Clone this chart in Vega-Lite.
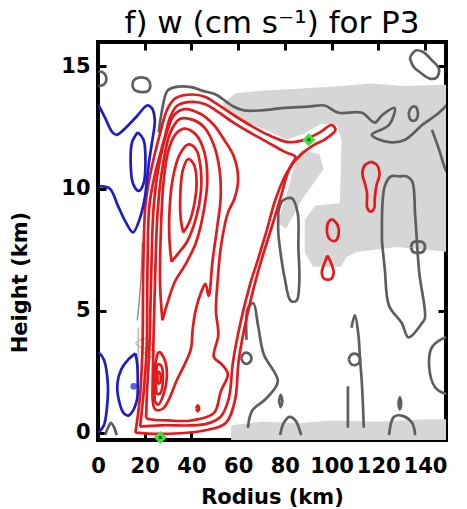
{
"$schema":"https://vega.github.io/schema/vega-lite/v6.json",
"width":348,"height":398,
"autosize":{"type":"none"},
"padding":{"left":98,"top":42,"right":21,"bottom":69},
"title":{"text":"f) w (cm s⁻¹) for P3","font":"DejaVu Sans","fontSize":31,"fontWeight":"normal","color":"#000","anchor":"middle","frame":"group","baseline":"alphabetic","offset":9,"dy":32},
"config":{"view":{"stroke":"#000","strokeWidth":4},
 "axis":{"grid":false,"domain":false,"zindex":1,"labelFlush":false,"labelOverlap":false,"tickColor":"#000","tickWidth":3,"tickSize":8,"offset":-8,"labelFont":"DejaVu Sans","labelFontWeight":"bold","labelFontSize":21,"labelColor":"#000","titleFont":"DejaVu Sans","titleFontWeight":"bold","titleFontSize":21,"titleColor":"#000"}},
"datasets":{
"shade":[
{"id":"S1","o":0,"x":53.4,"y":13.5},{"id":"S1","o":1,"x":59,"y":13.9},{"id":"S1","o":2,"x":69.8,"y":14.0},{"id":"S1","o":3,"x":87,"y":14.1},{"id":"S1","o":4,"x":104.3,"y":14.2},{"id":"S1","o":5,"x":117.2,"y":14.3},{"id":"S1","o":6,"x":130.2,"y":14.2},{"id":"S1","o":7,"x":150,"y":14.25},{"id":"S1","o":8,"x":150,"y":7.4},{"id":"S1","o":9,"x":138.8,"y":7.5},{"id":"S1","o":10,"x":128,"y":7.6},{"id":"S1","o":11,"x":119.4,"y":7.5},{"id":"S1","o":12,"x":110.8,"y":7.4},{"id":"S1","o":13,"x":106.5,"y":7.2},{"id":"S1","o":14,"x":104,"y":6.8},{"id":"S1","o":15,"x":92,"y":6.8},{"id":"S1","o":16,"x":88.5,"y":7.4},{"id":"S1","o":17,"x":88.5,"y":8.7},{"id":"S1","o":18,"x":93,"y":9.3},{"id":"S1","o":19,"x":103.5,"y":9.4},{"id":"S1","o":20,"x":104,"y":10.8},{"id":"S1","o":21,"x":104.3,"y":12.0},{"id":"S1","o":22,"x":102.2,"y":12.6},{"id":"S1","o":23,"x":95.7,"y":12.65},{"id":"S1","o":24,"x":88.4,"y":12.25},{"id":"S1","o":25,"x":80.6,"y":12.0},{"id":"S1","o":26,"x":72,"y":12.4},{"id":"S1","o":27,"x":61.2,"y":12.8},{"id":"S1","o":28,"x":54.7,"y":13.2},
{"id":"S2","o":0,"x":87,"y":11.6},{"id":"S2","o":1,"x":94.8,"y":11.4},{"id":"S2","o":2,"x":96.6,"y":10.8},{"id":"S2","o":3,"x":87,"y":9.5},{"id":"S2","o":4,"x":80.6,"y":8.35},{"id":"S2","o":5,"x":76.7,"y":8.6},{"id":"S2","o":6,"x":80.6,"y":9.7},{"id":"S2","o":7,"x":83.6,"y":10.8},
{"id":"S4","o":0,"x":57,"y":0.3},{"id":"S4","o":1,"x":70,"y":0.45},{"id":"S4","o":2,"x":87,"y":0.4},{"id":"S4","o":3,"x":100,"y":0.5},{"id":"S4","o":4,"x":120,"y":0.45},{"id":"S4","o":5,"x":140,"y":0.55},{"id":"S4","o":6,"x":150,"y":0.55},{"id":"S4","o":7,"x":150,"y":-0.4},{"id":"S4","o":8,"x":57,"y":-0.4}
],
"lines":[
{"id":"G1","c":"gray","o":0,"x":26,"y":12.3},{"id":"G1","c":"gray","o":1,"x":27.6,"y":13.3},{"id":"G1","c":"gray","o":2,"x":29.7,"y":14.0},{"id":"G1","c":"gray","o":3,"x":33,"y":14.15},{"id":"G1","c":"gray","o":4,"x":40,"y":14.15},{"id":"G1","c":"gray","o":5,"x":44.8,"y":14.0},{"id":"G1","c":"gray","o":6,"x":50.4,"y":13.85},{"id":"G1","c":"gray","o":7,"x":55,"y":13.55},{"id":"G1","c":"gray","o":8,"x":58.2,"y":13.35},{"id":"G1","c":"gray","o":9,"x":62.5,"y":13.2},{"id":"G1","c":"gray","o":10,"x":70,"y":13.2},{"id":"G1","c":"gray","o":11,"x":79.7,"y":13.3},{"id":"G1","c":"gray","o":12,"x":90,"y":13.35},{"id":"G1","c":"gray","o":13,"x":97,"y":13.4},{"id":"G1","c":"gray","o":14,"x":103,"y":13.1},{"id":"G1","c":"gray","o":15,"x":113,"y":13.1},{"id":"G1","c":"gray","o":16,"x":118.5,"y":12.7},{"id":"G1","c":"gray","o":17,"x":121.6,"y":13.0},{"id":"G1","c":"gray","o":18,"x":127,"y":13.3},{"id":"G1","c":"gray","o":19,"x":124.6,"y":12.6},{"id":"G1","c":"gray","o":20,"x":117.2,"y":12.2},{"id":"G1","c":"gray","o":21,"x":124.6,"y":11.9},{"id":"G1","c":"gray","o":22,"x":131.5,"y":12.0},{"id":"G1","c":"gray","o":23,"x":138.8,"y":12.6},{"id":"G1","c":"gray","o":24,"x":146,"y":13.1},{"id":"G1","c":"gray","o":25,"x":150,"y":13.5},
{"id":"G21","c":"gray","o":0,"x":143,"y":12.4},{"id":"G21","c":"gray","o":1,"x":146,"y":11.6},{"id":"G21","c":"gray","o":2,"x":148.7,"y":10.8},{"id":"G21","c":"gray","o":3,"x":150,"y":10.6},
{"id":"G2","c":"gray","o":0,"x":14.7,"y":14.25},{"id":"G2","c":"gray","o":1,"x":15.5,"y":14.45},{"id":"G2","c":"gray","o":2,"x":18.5,"y":14.55},{"id":"G2","c":"gray","o":3,"x":21.5,"y":14.45},{"id":"G2","c":"gray","o":4,"x":22.4,"y":14.2},{"id":"G2","c":"gray","o":5,"x":21.5,"y":14.0},{"id":"G2","c":"gray","o":6,"x":18.5,"y":13.95},{"id":"G2","c":"gray","o":7,"x":15.5,"y":14.05},{"id":"G2","c":"gray","o":8,"x":14.7,"y":14.25},
{"id":"G3","c":"gray","o":0,"x":0.2,"y":14.8},{"id":"G3","c":"gray","o":1,"x":2.2,"y":14.75},{"id":"G3","c":"gray","o":2,"x":3.6,"y":14.5},{"id":"G3","c":"gray","o":3,"x":2.4,"y":14.25},{"id":"G3","c":"gray","o":4,"x":0.2,"y":14.2},
{"id":"G4","c":"gray","o":0,"x":133.5,"y":15.35},{"id":"G4","c":"gray","o":1,"x":136,"y":15.65},{"id":"G4","c":"gray","o":2,"x":139,"y":15.6},{"id":"G4","c":"gray","o":3,"x":143,"y":15.25},{"id":"G4","c":"gray","o":4,"x":146,"y":14.9},{"id":"G4","c":"gray","o":5,"x":145,"y":14.55},{"id":"G4","c":"gray","o":6,"x":142,"y":14.5},{"id":"G4","c":"gray","o":7,"x":138,"y":14.75},{"id":"G4","c":"gray","o":8,"x":135,"y":15.0},{"id":"G4","c":"gray","o":9,"x":133.5,"y":15.35},
{"id":"G5","c":"gray","o":0,"x":133,"y":13.05},{"id":"G5","c":"gray","o":1,"x":134,"y":13.3},{"id":"G5","c":"gray","o":2,"x":136,"y":13.35},{"id":"G5","c":"gray","o":3,"x":137,"y":13.05},{"id":"G5","c":"gray","o":4,"x":136,"y":12.8},{"id":"G5","c":"gray","o":5,"x":134,"y":12.8},{"id":"G5","c":"gray","o":6,"x":133,"y":13.05},
{"id":"G7","c":"gray","o":0,"x":77.2,"y":9.0},{"id":"G7","c":"gray","o":1,"x":79,"y":9.5},{"id":"G7","c":"gray","o":2,"x":83,"y":9.6},{"id":"G7","c":"gray","o":3,"x":85.5,"y":9.0},{"id":"G7","c":"gray","o":4,"x":85.8,"y":7.6},{"id":"G7","c":"gray","o":5,"x":86.2,"y":6.2},{"id":"G7","c":"gray","o":6,"x":85,"y":5.4},{"id":"G7","c":"gray","o":7,"x":82.5,"y":5.4},{"id":"G7","c":"gray","o":8,"x":80,"y":6.3},{"id":"G7","c":"gray","o":9,"x":78.4,"y":7.2},{"id":"G7","c":"gray","o":10,"x":77.2,"y":8.2},{"id":"G7","c":"gray","o":11,"x":77.2,"y":9.0},
{"id":"G8","c":"gray","o":0,"x":63.6,"y":3.8},{"id":"G8","c":"gray","o":1,"x":64.2,"y":5.1},{"id":"G8","c":"gray","o":2,"x":66.5,"y":5.3},{"id":"G8","c":"gray","o":3,"x":68.5,"y":4.4},{"id":"G8","c":"gray","o":4,"x":71,"y":3.2},{"id":"G8","c":"gray","o":5,"x":77,"y":2.1},{"id":"G8","c":"gray","o":6,"x":72,"y":1.4},{"id":"G8","c":"gray","o":7,"x":66,"y":0.9},{"id":"G8","c":"gray","o":8,"x":64.2,"y":0.2},
{"id":"G9","c":"gray","o":0,"x":61.3,"y":3.05},{"id":"G9","c":"gray","o":1,"x":62.5,"y":3.25},{"id":"G9","c":"gray","o":2,"x":64.5,"y":3.25},{"id":"G9","c":"gray","o":3,"x":65.7,"y":3.05},{"id":"G9","c":"gray","o":4,"x":64.5,"y":2.85},{"id":"G9","c":"gray","o":5,"x":62.5,"y":2.85},{"id":"G9","c":"gray","o":6,"x":61.3,"y":3.05},
{"id":"G10","c":"gray","o":0,"x":77.5,"y":1.3},{"id":"G10","c":"gray","o":1,"x":78.2,"y":1.55},{"id":"G10","c":"gray","o":2,"x":78.9,"y":1.3},{"id":"G10","c":"gray","o":3,"x":78.2,"y":1.05},{"id":"G10","c":"gray","o":4,"x":77.5,"y":1.3},
{"id":"G11","c":"gray","o":0,"x":78,"y":-0.1},{"id":"G11","c":"gray","o":1,"x":79.5,"y":0.4},{"id":"G11","c":"gray","o":2,"x":82,"y":0.65},{"id":"G11","c":"gray","o":3,"x":84.5,"y":0.5},{"id":"G11","c":"gray","o":4,"x":87,"y":-0.1},
{"id":"G12","c":"gray","o":0,"x":108.5,"y":4.3},{"id":"G12","c":"gray","o":1,"x":110,"y":4.8},{"id":"G12","c":"gray","o":2,"x":111.5,"y":4.0},{"id":"G12","c":"gray","o":3,"x":112.2,"y":3.0},{"id":"G12","c":"gray","o":4,"x":113,"y":2.0},{"id":"G12","c":"gray","o":5,"x":113.8,"y":0.2},
{"id":"G13","c":"gray","o":0,"x":107,"y":0.2},{"id":"G13","c":"gray","o":1,"x":107,"y":1.9},
{"id":"G14","c":"gray","o":0,"x":107.3,"y":3.0},{"id":"G14","c":"gray","o":1,"x":108.5,"y":3.2},{"id":"G14","c":"gray","o":2,"x":111,"y":3.2},{"id":"G14","c":"gray","o":3,"x":112.2,"y":3.0},{"id":"G14","c":"gray","o":4,"x":111,"y":2.8},{"id":"G14","c":"gray","o":5,"x":108.5,"y":2.8},{"id":"G14","c":"gray","o":6,"x":107.3,"y":3.0},
{"id":"G15","c":"gray","o":0,"x":128.6,"y":1.2},{"id":"G15","c":"gray","o":1,"x":129.2,"y":1.45},{"id":"G15","c":"gray","o":2,"x":129.8,"y":1.2},{"id":"G15","c":"gray","o":3,"x":129.2,"y":0.95},{"id":"G15","c":"gray","o":4,"x":128.6,"y":1.2},
{"id":"G16","c":"gray","o":0,"x":124.6,"y":-0.1},{"id":"G16","c":"gray","o":1,"x":125.5,"y":0.4},{"id":"G16","c":"gray","o":2,"x":126.7,"y":0.65},{"id":"G16","c":"gray","o":3,"x":130,"y":0.7},{"id":"G16","c":"gray","o":4,"x":134.5,"y":0.4},{"id":"G16","c":"gray","o":5,"x":135.8,"y":-0.1},
{"id":"G17","c":"gray","o":0,"x":121.6,"y":7.8},{"id":"G17","c":"gray","o":1,"x":122.8,"y":10.1},{"id":"G17","c":"gray","o":2,"x":125.5,"y":10.5},{"id":"G17","c":"gray","o":3,"x":128.9,"y":10.5},{"id":"G17","c":"gray","o":4,"x":132,"y":10.5},{"id":"G17","c":"gray","o":5,"x":134.5,"y":10.3},{"id":"G17","c":"gray","o":6,"x":135.8,"y":8.9},{"id":"G17","c":"gray","o":7,"x":137.5,"y":6.6},{"id":"G17","c":"gray","o":8,"x":140,"y":4.7},{"id":"G17","c":"gray","o":9,"x":138.8,"y":4.5},{"id":"G17","c":"gray","o":10,"x":133,"y":3.9},{"id":"G17","c":"gray","o":11,"x":130,"y":4.5},{"id":"G17","c":"gray","o":12,"x":124.6,"y":5.2},{"id":"G17","c":"gray","o":13,"x":122.8,"y":6.7},{"id":"G17","c":"gray","o":14,"x":121.6,"y":7.8},
{"id":"G18","c":"gray","o":0,"x":150,"y":3.9},{"id":"G18","c":"gray","o":1,"x":148.7,"y":3.9},{"id":"G18","c":"gray","o":2,"x":143,"y":3.5},{"id":"G18","c":"gray","o":3,"x":141.8,"y":2.7},{"id":"G18","c":"gray","o":4,"x":144.4,"y":1.85},{"id":"G18","c":"gray","o":5,"x":148.7,"y":1.6},{"id":"G18","c":"gray","o":6,"x":150,"y":1.6},
{"id":"G19","c":"gray","o":0,"x":134,"y":7.6},{"id":"G19","c":"gray","o":1,"x":135,"y":7.8},{"id":"G19","c":"gray","o":2,"x":139,"y":7.8},{"id":"G19","c":"gray","o":3,"x":140,"y":7.6},{"id":"G19","c":"gray","o":4,"x":139,"y":7.4},{"id":"G19","c":"gray","o":5,"x":135,"y":7.4},{"id":"G19","c":"gray","o":6,"x":134,"y":7.6},
{"id":"G20","c":"gray","o":0,"x":3,"y":-0.1},{"id":"G20","c":"gray","o":1,"x":4.5,"y":0.25},{"id":"G20","c":"gray","o":2,"x":5.5,"y":0.4},{"id":"G20","c":"gray","o":3,"x":7,"y":0.2},{"id":"G20","c":"gray","o":4,"x":8,"y":-0.1},
{"id":"G22","c":"lgray","o":0,"x":19,"y":7.8},{"id":"G22","c":"lgray","o":1,"x":18.5,"y":6.5},{"id":"G22","c":"lgray","o":2,"x":17.5,"y":5.2},{"id":"G22","c":"lgray","o":3,"x":16.8,"y":4.6},
{"id":"T1","c":"tan","o":0,"x":16,"y":3.65},{"id":"T1","c":"tan","o":1,"x":19.5,"y":3.85},{"id":"T1","c":"tan","o":2,"x":23,"y":3.65},{"id":"T1","c":"tan","o":3,"x":19.5,"y":3.45},{"id":"T1","c":"tan","o":4,"x":16,"y":3.65},
{"id":"T2","c":"tan","o":0,"x":19.4,"y":3.25},{"id":"T2","c":"tan","o":1,"x":22.4,"y":3.4},{"id":"T2","c":"tan","o":2,"x":25.4,"y":3.25},{"id":"T2","c":"tan","o":3,"x":22.4,"y":3.1},{"id":"T2","c":"tan","o":4,"x":19.4,"y":3.25},
{"id":"T3","c":"tan","o":0,"x":17.2,"y":2.1},{"id":"T3","c":"tan","o":1,"x":17.2,"y":4.3},
{"id":"R1","c":"red","o":0,"x":16,"y":0.0},{"id":"R1","c":"red","o":1,"x":17.8,"y":1.3},{"id":"R1","c":"red","o":2,"x":19,"y":3.3},{"id":"R1","c":"red","o":3,"x":19.4,"y":6.8},{"id":"R1","c":"red","o":4,"x":20.3,"y":9.3},{"id":"R1","c":"red","o":5,"x":22.4,"y":10.6},{"id":"R1","c":"red","o":6,"x":26.7,"y":12.3},{"id":"R1","c":"red","o":7,"x":29.7,"y":13.25},{"id":"R1","c":"red","o":8,"x":33.2,"y":13.7},{"id":"R1","c":"red","o":9,"x":40.5,"y":13.85},{"id":"R1","c":"red","o":10,"x":46,"y":13.75},{"id":"R1","c":"red","o":11,"x":50.4,"y":13.5},{"id":"R1","c":"red","o":12,"x":58.2,"y":13.0},{"id":"R1","c":"red","o":13,"x":65,"y":12.6},{"id":"R1","c":"red","o":14,"x":72.8,"y":12.2},{"id":"R1","c":"red","o":15,"x":81.5,"y":11.9},{"id":"R1","c":"red","o":16,"x":88.4,"y":12.0},{"id":"R1","c":"red","o":17,"x":95,"y":12.3},{"id":"R1","c":"red","o":18,"x":100,"y":12.6},{"id":"R1","c":"red","o":19,"x":101.7,"y":12.4},{"id":"R1","c":"red","o":20,"x":97,"y":12.0},{"id":"R1","c":"red","o":21,"x":92.7,"y":11.8},{"id":"R1","c":"red","o":22,"x":87,"y":11.4},{"id":"R1","c":"red","o":23,"x":82,"y":10.8},{"id":"R1","c":"red","o":24,"x":78.4,"y":9.7},{"id":"R1","c":"red","o":25,"x":74,"y":8.3},{"id":"R1","c":"red","o":26,"x":70.7,"y":7.3},{"id":"R1","c":"red","o":27,"x":67.7,"y":6.3},{"id":"R1","c":"red","o":28,"x":63.4,"y":4.6},{"id":"R1","c":"red","o":29,"x":60.3,"y":3.0},{"id":"R1","c":"red","o":30,"x":58.6,"y":1.3},{"id":"R1","c":"red","o":31,"x":54.7,"y":0.4},{"id":"R1","c":"red","o":32,"x":46,"y":0.1},{"id":"R1","c":"red","o":33,"x":26.7,"y":-0.05},{"id":"R1","c":"red","o":34,"x":16,"y":0.0},
{"id":"R1b","c":"red","o":0,"x":18,"y":0.25},{"id":"R1b","c":"red","o":1,"x":19.4,"y":1.5},{"id":"R1b","c":"red","o":2,"x":20.8,"y":3.4},{"id":"R1b","c":"red","o":3,"x":21.2,"y":6.8},{"id":"R1b","c":"red","o":4,"x":22,"y":9.3},{"id":"R1b","c":"red","o":5,"x":24.2,"y":10.5},{"id":"R1b","c":"red","o":6,"x":28.3,"y":12.0},{"id":"R1b","c":"red","o":7,"x":31,"y":12.95},{"id":"R1b","c":"red","o":8,"x":34,"y":13.4},{"id":"R1b","c":"red","o":9,"x":40.5,"y":13.55},{"id":"R1b","c":"red","o":10,"x":46,"y":13.45},{"id":"R1b","c":"red","o":11,"x":50.4,"y":13.2},{"id":"R1b","c":"red","o":12,"x":58,"y":12.7},{"id":"R1b","c":"red","o":13,"x":65,"y":12.3},{"id":"R1b","c":"red","o":14,"x":72.5,"y":11.9},{"id":"R1b","c":"red","o":15,"x":80,"y":11.5},{"id":"R1b","c":"red","o":16,"x":84.5,"y":11.3},{"id":"R1b","c":"red","o":17,"x":83,"y":11.0},{"id":"R1b","c":"red","o":18,"x":79.5,"y":10.4},{"id":"R1b","c":"red","o":19,"x":75.8,"y":9.5},{"id":"R1b","c":"red","o":20,"x":72,"y":8.2},{"id":"R1b","c":"red","o":21,"x":68.5,"y":7.1},{"id":"R1b","c":"red","o":22,"x":65.2,"y":6.1},{"id":"R1b","c":"red","o":23,"x":61,"y":4.5},{"id":"R1b","c":"red","o":24,"x":57.8,"y":2.9},{"id":"R1b","c":"red","o":25,"x":56,"y":1.4},{"id":"R1b","c":"red","o":26,"x":52.5,"y":0.65},{"id":"R1b","c":"red","o":27,"x":46,"y":0.35},{"id":"R1b","c":"red","o":28,"x":27,"y":0.3},{"id":"R1b","c":"red","o":29,"x":18,"y":0.25},
{"id":"R2","c":"red","o":0,"x":20.6,"y":0.6},{"id":"R2","c":"red","o":1,"x":20.9,"y":1.5},{"id":"R2","c":"red","o":2,"x":22,"y":3.5},{"id":"R2","c":"red","o":3,"x":22.8,"y":6.5},{"id":"R2","c":"red","o":4,"x":23.8,"y":9.2},{"id":"R2","c":"red","o":5,"x":26,"y":10.9},{"id":"R2","c":"red","o":6,"x":29.5,"y":12.3},{"id":"R2","c":"red","o":7,"x":32.5,"y":13.0},{"id":"R2","c":"red","o":8,"x":37,"y":13.25},{"id":"R2","c":"red","o":9,"x":44,"y":13.05},{"id":"R2","c":"red","o":10,"x":49.6,"y":12.6},{"id":"R2","c":"red","o":11,"x":54,"y":12.0},{"id":"R2","c":"red","o":12,"x":58.2,"y":11.3},{"id":"R2","c":"red","o":13,"x":60,"y":10.4},{"id":"R2","c":"red","o":14,"x":58.5,"y":9.6},{"id":"R2","c":"red","o":15,"x":55.6,"y":9.0},{"id":"R2","c":"red","o":16,"x":52.6,"y":7.6},{"id":"R2","c":"red","o":17,"x":51.3,"y":6.3},{"id":"R2","c":"red","o":18,"x":50.5,"y":5.0},{"id":"R2","c":"red","o":19,"x":51.5,"y":4.0},{"id":"R2","c":"red","o":20,"x":49.6,"y":3.1},{"id":"R2","c":"red","o":21,"x":53,"y":2.8},{"id":"R2","c":"red","o":22,"x":55.6,"y":2.4},{"id":"R2","c":"red","o":23,"x":52.6,"y":1.7},{"id":"R2","c":"red","o":24,"x":49.6,"y":0.8},{"id":"R2","c":"red","o":25,"x":40,"y":0.5},{"id":"R2","c":"red","o":26,"x":30,"y":0.5},{"id":"R2","c":"red","o":27,"x":22,"y":0.55},{"id":"R2","c":"red","o":28,"x":20.6,"y":0.6},
{"id":"R2b","c":"red","o":0,"x":23.3,"y":1.5},{"id":"R2b","c":"red","o":1,"x":24.5,"y":0.95},{"id":"R2b","c":"red","o":2,"x":28,"y":1.0},{"id":"R2b","c":"red","o":3,"x":34,"y":2.2},{"id":"R2b","c":"red","o":4,"x":39.7,"y":3.4},{"id":"R2b","c":"red","o":5,"x":40.5,"y":4.2},{"id":"R2b","c":"red","o":6,"x":41.8,"y":5.0},{"id":"R2b","c":"red","o":7,"x":44.8,"y":5.9},{"id":"R2b","c":"red","o":8,"x":46,"y":6.1},{"id":"R2b","c":"red","o":9,"x":47.4,"y":5.6},{"id":"R2b","c":"red","o":10,"x":49,"y":7.0},{"id":"R2b","c":"red","o":11,"x":51,"y":8.4},{"id":"R2b","c":"red","o":12,"x":52.5,"y":9.6},{"id":"R2b","c":"red","o":13,"x":52,"y":10.8},{"id":"R2b","c":"red","o":14,"x":49.5,"y":11.8},{"id":"R2b","c":"red","o":15,"x":45.5,"y":12.5},{"id":"R2b","c":"red","o":16,"x":41,"y":12.8},{"id":"R2b","c":"red","o":17,"x":35,"y":12.85},{"id":"R2b","c":"red","o":18,"x":31,"y":12.3},{"id":"R2b","c":"red","o":19,"x":27.5,"y":10.8},{"id":"R2b","c":"red","o":20,"x":25.5,"y":9.0},{"id":"R2b","c":"red","o":21,"x":24.5,"y":6.5},{"id":"R2b","c":"red","o":22,"x":23.8,"y":4.0},{"id":"R2b","c":"red","o":23,"x":23.3,"y":1.5},
{"id":"R3","c":"red","o":0,"x":27.6,"y":4.6},{"id":"R3","c":"red","o":1,"x":30,"y":5.4},{"id":"R3","c":"red","o":2,"x":33,"y":6.2},{"id":"R3","c":"red","o":3,"x":37.5,"y":6.9},{"id":"R3","c":"red","o":4,"x":42,"y":7.8},{"id":"R3","c":"red","o":5,"x":45.5,"y":9.2},{"id":"R3","c":"red","o":6,"x":46.8,"y":10.4},{"id":"R3","c":"red","o":7,"x":45.5,"y":11.5},{"id":"R3","c":"red","o":8,"x":42,"y":12.2},{"id":"R3","c":"red","o":9,"x":37,"y":12.45},{"id":"R3","c":"red","o":10,"x":33,"y":12.2},{"id":"R3","c":"red","o":11,"x":30,"y":11.5},{"id":"R3","c":"red","o":12,"x":28,"y":10.2},{"id":"R3","c":"red","o":13,"x":26.9,"y":8.2},{"id":"R3","c":"red","o":14,"x":26.6,"y":6.0},{"id":"R3","c":"red","o":15,"x":27.6,"y":4.6},
{"id":"R4","c":"red","o":0,"x":31.5,"y":7.0},{"id":"R4","c":"red","o":1,"x":34,"y":7.3},{"id":"R4","c":"red","o":2,"x":38,"y":7.8},{"id":"R4","c":"red","o":3,"x":42,"y":8.8},{"id":"R4","c":"red","o":4,"x":44,"y":9.8},{"id":"R4","c":"red","o":5,"x":44,"y":10.8},{"id":"R4","c":"red","o":6,"x":42,"y":11.6},{"id":"R4","c":"red","o":7,"x":38.5,"y":11.8},{"id":"R4","c":"red","o":8,"x":35,"y":11.4},{"id":"R4","c":"red","o":9,"x":32,"y":10.4},{"id":"R4","c":"red","o":10,"x":30.5,"y":8.8},{"id":"R4","c":"red","o":11,"x":30.8,"y":7.6},{"id":"R4","c":"red","o":12,"x":31.5,"y":7.0},
{"id":"R5","c":"red","o":0,"x":36.5,"y":8.2},{"id":"R5","c":"red","o":1,"x":39,"y":8.6},{"id":"R5","c":"red","o":2,"x":41.3,"y":9.4},{"id":"R5","c":"red","o":3,"x":42.2,"y":10.3},{"id":"R5","c":"red","o":4,"x":41,"y":11.0},{"id":"R5","c":"red","o":5,"x":38.5,"y":11.2},{"id":"R5","c":"red","o":6,"x":36.2,"y":10.7},{"id":"R5","c":"red","o":7,"x":35.2,"y":9.6},{"id":"R5","c":"red","o":8,"x":35.5,"y":8.7},{"id":"R5","c":"red","o":9,"x":36.5,"y":8.2},
{"id":"R6","c":"red","o":0,"x":24.3,"y":1.3},{"id":"R6","c":"red","o":1,"x":25.8,"y":1.15},{"id":"R6","c":"red","o":2,"x":28,"y":1.55},{"id":"R6","c":"red","o":3,"x":29.5,"y":2.3},{"id":"R6","c":"red","o":4,"x":28.5,"y":3.0},{"id":"R6","c":"red","o":5,"x":26.2,"y":3.3},{"id":"R6","c":"red","o":6,"x":24.7,"y":2.9},{"id":"R6","c":"red","o":7,"x":24.1,"y":2.1},{"id":"R6","c":"red","o":8,"x":24.3,"y":1.3},
{"id":"R7","c":"red","o":0,"x":25,"y":1.6},{"id":"R7","c":"red","o":1,"x":26.5,"y":1.6},{"id":"R7","c":"red","o":2,"x":27.8,"y":2.2},{"id":"R7","c":"red","o":3,"x":27,"y":2.75},{"id":"R7","c":"red","o":4,"x":25.6,"y":2.8},{"id":"R7","c":"red","o":5,"x":24.9,"y":2.2},{"id":"R7","c":"red","o":6,"x":25,"y":1.6},
{"id":"R8","c":"red","o":0,"x":25.6,"y":2.0},{"id":"R8","c":"red","o":1,"x":26.6,"y":2.05},{"id":"R8","c":"red","o":2,"x":26.7,"y":2.4},{"id":"R8","c":"red","o":3,"x":25.8,"y":2.5},{"id":"R8","c":"red","o":4,"x":25.6,"y":2.0},
{"id":"RD","c":"red","o":0,"x":42.1,"y":1.0},{"id":"RD","c":"red","o":1,"x":42.7,"y":1.12},{"id":"RD","c":"red","o":2,"x":43.3,"y":1.0},{"id":"RD","c":"red","o":3,"x":42.7,"y":0.88},{"id":"RD","c":"red","o":4,"x":42.1,"y":1.0},
{"id":"RK","c":"red","o":0,"x":116.8,"y":11.1},{"id":"RK","c":"red","o":1,"x":119.5,"y":10.95},{"id":"RK","c":"red","o":2,"x":120.5,"y":10.55},{"id":"RK","c":"red","o":3,"x":119.3,"y":10.15},{"id":"RK","c":"red","o":4,"x":118.5,"y":9.6},{"id":"RK","c":"red","o":5,"x":118.3,"y":9.2},{"id":"RK","c":"red","o":6,"x":116.8,"y":9.05},{"id":"RK","c":"red","o":7,"x":115.3,"y":9.2},{"id":"RK","c":"red","o":8,"x":115.2,"y":9.8},{"id":"RK","c":"red","o":9,"x":114.3,"y":10.2},{"id":"RK","c":"red","o":10,"x":113.2,"y":10.6},{"id":"RK","c":"red","o":11,"x":114.2,"y":10.95},{"id":"RK","c":"red","o":12,"x":116.8,"y":11.1},
{"id":"RO","c":"red","o":0,"x":100.4,"y":8.75},{"id":"RO","c":"red","o":1,"x":102.6,"y":8.5},{"id":"RO","c":"red","o":2,"x":103,"y":8.1},{"id":"RO","c":"red","o":3,"x":101.5,"y":7.85},{"id":"RO","c":"red","o":4,"x":99,"y":7.95},{"id":"RO","c":"red","o":5,"x":98,"y":8.3},{"id":"RO","c":"red","o":6,"x":98.8,"y":8.65},{"id":"RO","c":"red","o":7,"x":100.4,"y":8.75},
{"id":"RR","c":"red","o":0,"x":98.3,"y":7.25},{"id":"RR","c":"red","o":1,"x":100,"y":6.9},{"id":"RR","c":"red","o":2,"x":100.9,"y":6.55},{"id":"RR","c":"red","o":3,"x":99.8,"y":6.3},{"id":"RR","c":"red","o":4,"x":97,"y":6.3},{"id":"RR","c":"red","o":5,"x":95.8,"y":6.55},{"id":"RR","c":"red","o":6,"x":96.8,"y":6.9},{"id":"RR","c":"red","o":7,"x":98.3,"y":7.25},
{"id":"B1","c":"blue","o":0,"x":0.3,"y":10.1},{"id":"B1","c":"blue","o":1,"x":5,"y":10.0},{"id":"B1","c":"blue","o":2,"x":8.5,"y":9.3},{"id":"B1","c":"blue","o":3,"x":12,"y":8.6},{"id":"B1","c":"blue","o":4,"x":15,"y":8.2},{"id":"B1","c":"blue","o":5,"x":18,"y":8.8},{"id":"B1","c":"blue","o":6,"x":20,"y":9.6},{"id":"B1","c":"blue","o":7,"x":21,"y":10.4},{"id":"B1","c":"blue","o":8,"x":22,"y":11.2},{"id":"B1","c":"blue","o":9,"x":23.3,"y":12.0},{"id":"B1","c":"blue","o":10,"x":24.3,"y":12.8},{"id":"B1","c":"blue","o":11,"x":23,"y":13.3},{"id":"B1","c":"blue","o":12,"x":21,"y":13.4},{"id":"B1","c":"blue","o":13,"x":17,"y":13.0},{"id":"B1","c":"blue","o":14,"x":12,"y":12.5},{"id":"B1","c":"blue","o":15,"x":8,"y":12.2},{"id":"B1","c":"blue","o":16,"x":6.2,"y":12.3},{"id":"B1","c":"blue","o":17,"x":3,"y":12.9},{"id":"B1","c":"blue","o":18,"x":0.3,"y":13.4},
{"id":"B2","c":"blue","o":0,"x":17,"y":12.3},{"id":"B2","c":"blue","o":1,"x":19.5,"y":12.0},{"id":"B2","c":"blue","o":2,"x":20.3,"y":11.0},{"id":"B2","c":"blue","o":3,"x":19.5,"y":10.2},{"id":"B2","c":"blue","o":4,"x":17.5,"y":9.9},{"id":"B2","c":"blue","o":5,"x":15,"y":10.2},{"id":"B2","c":"blue","o":6,"x":14,"y":11.0},{"id":"B2","c":"blue","o":7,"x":14.6,"y":11.9},{"id":"B2","c":"blue","o":8,"x":17,"y":12.3},
{"id":"B3","c":"blue","o":0,"x":0.2,"y":3.3},{"id":"B3","c":"blue","o":1,"x":2.5,"y":3.0},{"id":"B3","c":"blue","o":2,"x":4.2,"y":2.0},{"id":"B3","c":"blue","o":3,"x":3.8,"y":1.0},{"id":"B3","c":"blue","o":4,"x":2.5,"y":0.3},{"id":"B3","c":"blue","o":5,"x":0.2,"y":0.0},
{"id":"B4","c":"blue","o":0,"x":16,"y":3.25},{"id":"B4","c":"blue","o":1,"x":13,"y":3.0},{"id":"B4","c":"blue","o":2,"x":10,"y":2.6},{"id":"B4","c":"blue","o":3,"x":8.3,"y":2.0},{"id":"B4","c":"blue","o":4,"x":9,"y":1.3},{"id":"B4","c":"blue","o":5,"x":11,"y":0.8},{"id":"B4","c":"blue","o":6,"x":13,"y":0.7},{"id":"B4","c":"blue","o":7,"x":15.5,"y":1.0},{"id":"B4","c":"blue","o":8,"x":16.8,"y":1.4},{"id":"B4","c":"blue","o":9,"x":17,"y":2.2},{"id":"B4","c":"blue","o":10,"x":16.8,"y":2.8},{"id":"B4","c":"blue","o":11,"x":16,"y":3.25}
],
"pts":[{"k":"blob","x":15.3,"y":1.9},{"k":"green","x":26.7,"y":-0.2},{"k":"green","x":90.3,"y":12.0}]
},
"layer":[
{"data":{"name":"shade"},
 "mark":{"type":"line","fill":"#d6d6d6","stroke":null,"clip":true},
 "encoding":{
  "x":{"field":"x","type":"quantitative","scale":{"domain":[0,149],"nice":false,"zero":false},
   "axis":{"orient":"bottom","values":[0,20,40,60,80,100,120,140],"labelPadding":15,"title":"Rodius (km)","titleY":71,"titleBaseline":"alphabetic"}},
  "y":{"field":"y","type":"quantitative","scale":{"domain":[-0.3,16],"nice":false,"zero":false},
   "axis":{"orient":"left","values":[0,5,10,15],"labelPadding":8,"labelBaseline":"middle","title":"Height (km)","titleAngle":270,"titleX":-80,"titleY":240,"titleAlign":"center","titleBaseline":"alphabetic"}},
  "detail":{"field":"id"},"order":{"field":"o"}}},
{"data":{"name":"lines"},"transform":[{"filter":"datum.c == 'gray'"}],
 "mark":{"type":"line","strokeWidth":2.7,"clip":true,"interpolate":"catmull-rom","color":"#5e5e5e"},
 "encoding":{
  "x":{"field":"x","type":"quantitative","axis":{"orient":"top","labels":false,"title":null,"values":[20,40,60,80,100,120,140]}},
  "y":{"field":"y","type":"quantitative","axis":{"orient":"right","labels":false,"title":null,"values":[5,10,15]}},
  "detail":{"field":"id"},"order":{"field":"o"}}},
{"data":{"name":"lines"},"transform":[{"filter":"datum.c == 'tan' || datum.c == 'lgray'"}],
 "mark":{"type":"line","strokeWidth":1.4,"clip":true,"interpolate":"catmull-rom"},
 "encoding":{
  "x":{"field":"x","type":"quantitative","axis":null},
  "y":{"field":"y","type":"quantitative","axis":null},
  "color":{"field":"c","type":"nominal","scale":{"domain":["tan","lgray"],"range":["#d6b08c","#8c8c8c"]},"legend":null},
  "detail":{"field":"id"},"order":{"field":"o"}}},
{"data":{"name":"lines"},"transform":[{"filter":"datum.c == 'red' || datum.c == 'blue'"}],
 "mark":{"type":"line","strokeWidth":2.7,"clip":true,"interpolate":"catmull-rom"},
 "encoding":{
  "x":{"field":"x","type":"quantitative","axis":null},
  "y":{"field":"y","type":"quantitative","axis":null},
  "stroke":{"field":"c","type":"nominal","scale":{"domain":["red","blue"],"range":["#e3191c","#1c1cc8"]},"legend":null},
  "detail":{"field":"id"},"order":{"field":"o"}}},
{"data":{"name":"pts"},"transform":[{"filter":"datum.k == 'blob'"}],
 "mark":{"type":"point","shape":"circle","filled":true,"size":45,"color":"#1c1cc8"},
 "encoding":{"x":{"field":"x","type":"quantitative","axis":null},"y":{"field":"y","type":"quantitative","axis":null}}},
{"data":{"name":"pts"},"transform":[{"filter":"datum.k == 'green'"}],
 "mark":{"type":"point","shape":"diamond","filled":true,"size":170,"color":"#3be23b","opacity":1,"clip":false},
 "encoding":{"x":{"field":"x","type":"quantitative","axis":null},"y":{"field":"y","type":"quantitative","axis":null}}},
{"data":{"name":"pts"},"transform":[{"filter":"datum.k == 'green'"}],
 "mark":{"type":"point","shape":"circle","filled":true,"size":12,"color":"#1f5a1f","opacity":1},
 "encoding":{"x":{"field":"x","type":"quantitative","axis":null},"y":{"field":"y","type":"quantitative","axis":null}}}
],
"resolve":{"axis":{"x":"independent","y":"independent"}}
}
